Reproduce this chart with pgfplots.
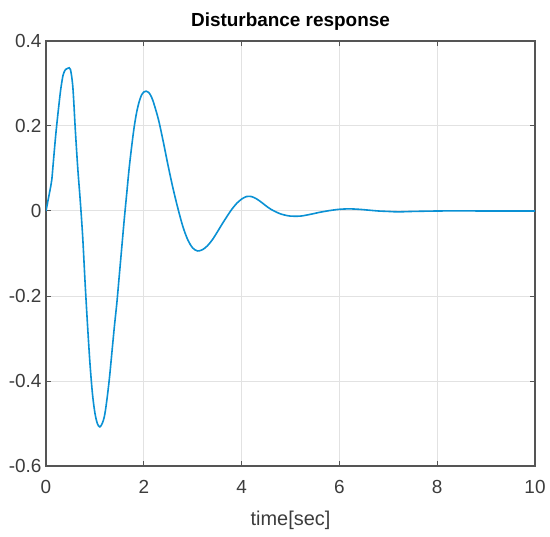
\documentclass[border=0pt]{standalone}
\usepackage{pgfplots}
\pgfplotsset{compat=1.18}
\usepackage{fontspec}
\setmainfont{Liberation Sans}
\definecolor{mblue}{RGB}{10,145,212}
\definecolor{axgray}{RGB}{85,85,85}
\definecolor{gridgray}{RGB}{226,226,226}
\definecolor{lblgray}{RGB}{60,60,60}
\begin{document}
\begin{tikzpicture}[x=1bp,y=1bp]
\begin{axis}[
  scale only axis,
  width=489bp, height=425bp,
  xmin=0, xmax=10, ymin=-0.6, ymax=0.4,
  xtick={0,2,4,6,8,10},
  xticklabels={0,2,4,6,8,10},
  ytick={-0.6,-0.4,-0.2,0,0.2,0.4},
  yticklabels={-0.6,-0.4,-0.2,0,0.2,0.4},
  tick align=inside,
  major tick length=5bp,
  xmajorgrids, ymajorgrids,
  grid style={gridgray, line width=1bp},
  axis line style={axgray, line width=1.5bp},
  every tick/.style={axgray, line width=1bp},
  tick label style={font=\fontsize{19}{21}\selectfont, text=lblgray},
  xticklabel style={yshift=-11bp},
  yticklabel style={xshift=-1bp},
  xlabel={time[sec]},
  xlabel style={font=\fontsize{20}{22}\selectfont, text=lblgray, yshift=-10bp},
  title={\textbf{Disturbance response}},
  title style={font=\fontsize{19}{21}\selectfont, text=black, yshift=1bp},
  axis background/.style={fill=white},
]
\addplot[mblue, line width=1.6bp, smooth] coordinates {
(0.00,0.000) (0.05,0.030) (0.10,0.060) (0.12,0.075) (0.15,0.115)
(0.20,0.180) (0.25,0.235) (0.30,0.285) (0.35,0.320) (0.40,0.333)
(0.45,0.336) (0.50,0.333) (0.55,0.290) (0.60,0.190) (0.65,0.100)
(0.70,0.025) (0.75,-0.060) (0.80,-0.170) (0.85,-0.270) (0.90,-0.360)
(0.95,-0.430) (1.00,-0.475) (1.05,-0.500) (1.10,-0.508) (1.15,-0.500)
(1.20,-0.480) (1.25,-0.440) (1.30,-0.390) (1.35,-0.330) (1.40,-0.270)
(1.45,-0.215) (1.50,-0.150) (1.55,-0.085) (1.60,-0.020) (1.65,0.040)
(1.70,0.100) (1.75,0.150) (1.80,0.195) (1.85,0.230) (1.90,0.255)
(1.95,0.272) (2.00,0.280) (2.05,0.282) (2.10,0.279) (2.15,0.270)
(2.20,0.255) (2.30,0.215) (2.40,0.162) (2.50,0.105) (2.60,0.052)
(2.70,0.005) (2.80,-0.037) (2.90,-0.068) (3.00,-0.087) (3.10,-0.094)
(3.20,-0.091) (3.30,-0.082) (3.40,-0.068) (3.50,-0.050) (3.60,-0.031)
(3.70,-0.013) (3.80,0.004) (3.90,0.018) (4.00,0.028) (4.10,0.034)
(4.20,0.034) (4.30,0.029) (4.40,0.021) (4.50,0.012) (4.60,0.004)
(4.70,-0.002) (4.80,-0.007) (4.90,-0.010) (5.00,-0.012) (5.20,-0.012)
(5.40,-0.008) (5.60,-0.003) (5.80,0.001) (6.00,0.004) (6.20,0.005)
(6.40,0.004) (6.60,0.002) (6.80,0.000) (7.00,-0.001) (7.20,-0.002)
(7.50,-0.001) (8.00,0.000) (8.50,0.0003) (9.00,0.000) (10.00,0.000)
};
\end{axis}
\pgfresetboundingbox
\useasboundingbox (-46bp,-71bp) rectangle (504bp,466bp);
\end{tikzpicture}
\end{document}
